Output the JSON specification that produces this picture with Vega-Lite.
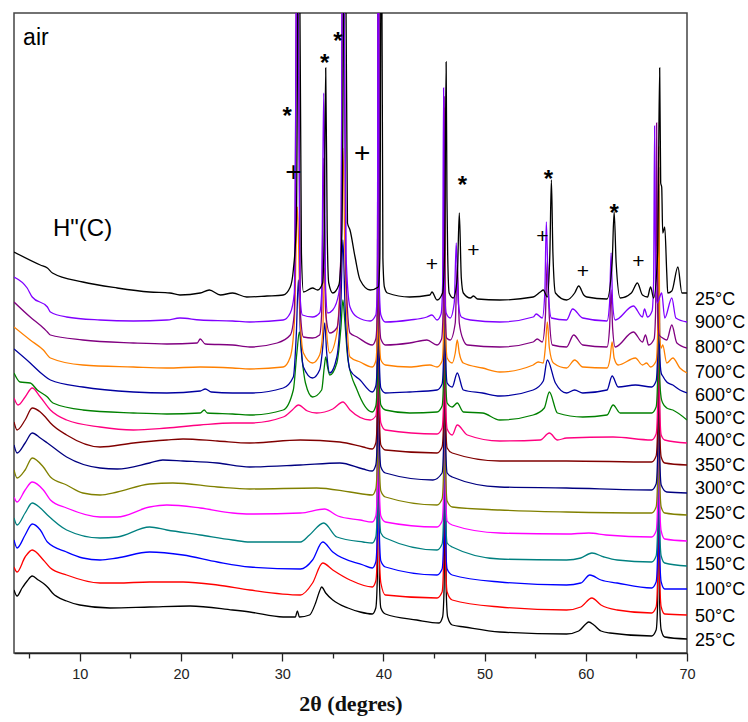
{
  "$schema": "https://vega.github.io/schema/vega-lite/v6.json",
  "width": 673,
  "height": 640,
  "autosize": {"type": "none"},
  "padding": {"left": 14, "top": 13, "right": 61, "bottom": 69},
  "background": "white",
  "config": {"view": {"stroke": "#444", "strokeWidth": 1.5}, "font": "Liberation Sans"},
  "datasets": {
    "xrd": [
      {"s":"25a","x":3.5,"y":63},{"s":"25a","x":3.8,"y":57},{"s":"25a","x":4.3,"y":65},{"s":"25a","x":4.8,"y":72},{"s":"25a","x":5.3,"y":77},{"s":"25a","x":5.9,"y":73},{"s":"25a","x":6.6,"y":68},{"s":"25a","x":6.9,"y":65},{"s":"25a","x":7.3,"y":60},{"s":"25a","x":8.7,"y":52},{"s":"25a","x":10.0,"y":48},{"s":"25a","x":13.0,"y":45},{"s":"25a","x":16.9,"y":46},{"s":"25a","x":20.9,"y":47},{"s":"25a","x":25.1,"y":43},{"s":"25a","x":26.8,"y":41},{"s":"25a","x":30.1,"y":36},{"s":"25a","x":31.3,"y":36},{"s":"25a","x":31.5,"y":42},{"s":"25a","x":31.7,"y":36},{"s":"25a","x":32.7,"y":38},{"s":"25a","x":33.3,"y":50},{"s":"25a","x":33.7,"y":62},{"s":"25a","x":33.9,"y":66},{"s":"25a","x":34.3,"y":60},{"s":"25a","x":35.0,"y":53},{"s":"25a","x":36.5,"y":45},{"s":"25a","x":37.7,"y":41},{"s":"25a","x":38.9,"y":39},{"s":"25a","x":39.25,"y":45},{"s":"25a","x":39.4,"y":75},{"s":"25a","x":39.5,"y":800},{"s":"25a","x":39.6,"y":75},{"s":"25a","x":39.75,"y":45},{"s":"25a","x":40.2,"y":39},{"s":"25a","x":43.3,"y":33},{"s":"25a","x":45.5,"y":30},{"s":"25a","x":45.85,"y":36},{"s":"25a","x":46.0,"y":65},{"s":"25a","x":46.1,"y":270},{"s":"25a","x":46.2,"y":65},{"s":"25a","x":46.35,"y":36},{"s":"25a","x":46.8,"y":28},{"s":"25a","x":48.0,"y":26},{"s":"25a","x":51.5,"y":21},{"s":"25a","x":58.1,"y":19},{"s":"25a","x":59.3,"y":22},{"s":"25a","x":60.0,"y":29},{"s":"25a","x":60.3,"y":31},{"s":"25a","x":60.8,"y":28},{"s":"25a","x":61.5,"y":22},{"s":"25a","x":62.4,"y":20},{"s":"25a","x":66.5,"y":17},{"s":"25a","x":66.95,"y":23},{"s":"25a","x":67.1,"y":50},{"s":"25a","x":67.2,"y":230},{"s":"25a","x":67.3,"y":50},{"s":"25a","x":67.45,"y":23},{"s":"25a","x":67.8,"y":16},{"s":"25a","x":70.0,"y":14},

      {"s":"50","x":3.5,"y":86},{"s":"50","x":3.8,"y":81},{"s":"50","x":4.6,"y":96},{"s":"50","x":5.3,"y":103},{"s":"50","x":6.4,"y":93},{"s":"50","x":7.1,"y":85},{"s":"50","x":8.7,"y":78},{"s":"50","x":12.0,"y":70},{"s":"50","x":13.7,"y":70},{"s":"50","x":16.9,"y":71},{"s":"50","x":20.2,"y":71},{"s":"50","x":23.6,"y":68},{"s":"50","x":26.8,"y":63},{"s":"50","x":31.8,"y":58},{"s":"50","x":33.0,"y":70},{"s":"50","x":34.0,"y":90},{"s":"50","x":35.0,"y":83},{"s":"50","x":36.7,"y":73},{"s":"50","x":38.9,"y":66},{"s":"50","x":39.25,"y":72},{"s":"50","x":39.4,"y":100},{"s":"50","x":39.5,"y":800},{"s":"50","x":39.6,"y":100},{"s":"50","x":39.75,"y":70},{"s":"50","x":40.2,"y":58},{"s":"50","x":45.3,"y":55},{"s":"50","x":45.8,"y":61},{"s":"50","x":45.95,"y":90},{"s":"50","x":46.05,"y":295},{"s":"50","x":46.15,"y":90},{"s":"50","x":46.3,"y":61},{"s":"50","x":46.8,"y":53},{"s":"50","x":51.5,"y":46},{"s":"50","x":58.1,"y":43},{"s":"50","x":59.5,"y":46},{"s":"50","x":60.6,"y":55},{"s":"50","x":61.5,"y":48},{"s":"50","x":63.1,"y":43},{"s":"50","x":66.5,"y":40},{"s":"50","x":66.95,"y":46},{"s":"50","x":67.1,"y":75},{"s":"50","x":67.2,"y":255},{"s":"50","x":67.3,"y":75},{"s":"50","x":67.45,"y":46},{"s":"50","x":67.8,"y":39},{"s":"50","x":70.0,"y":38},

      {"s":"100","x":3.5,"y":113},{"s":"100","x":3.8,"y":105},{"s":"100","x":4.6,"y":118},{"s":"100","x":5.3,"y":129},{"s":"100","x":6.1,"y":123},{"s":"100","x":6.8,"y":111},{"s":"100","x":8.7,"y":101},{"s":"100","x":10.3,"y":95},{"s":"100","x":12.0,"y":93},{"s":"100","x":13.7,"y":95},{"s":"100","x":16.9,"y":101},{"s":"100","x":20.2,"y":98},{"s":"100","x":23.6,"y":91},{"s":"100","x":26.8,"y":86},{"s":"100","x":31.8,"y":84},{"s":"100","x":33.0,"y":93},{"s":"100","x":34.0,"y":111},{"s":"100","x":35.0,"y":101},{"s":"100","x":38.0,"y":88},{"s":"100","x":38.9,"y":85},{"s":"100","x":39.25,"y":91},{"s":"100","x":39.4,"y":120},{"s":"100","x":39.5,"y":800},{"s":"100","x":39.6,"y":120},{"s":"100","x":39.75,"y":92},{"s":"100","x":40.2,"y":86},{"s":"100","x":45.3,"y":78},{"s":"100","x":45.8,"y":84},{"s":"100","x":45.95,"y":112},{"s":"100","x":46.05,"y":320},{"s":"100","x":46.15,"y":112},{"s":"100","x":46.3,"y":84},{"s":"100","x":46.8,"y":78},{"s":"100","x":51.5,"y":71},{"s":"100","x":58.1,"y":68},{"s":"100","x":59.5,"y":70},{"s":"100","x":60.4,"y":78},{"s":"100","x":61.5,"y":73},{"s":"100","x":63.1,"y":70},{"s":"100","x":66.5,"y":65},{"s":"100","x":66.95,"y":71},{"s":"100","x":67.1,"y":100},{"s":"100","x":67.2,"y":275},{"s":"100","x":67.3,"y":100},{"s":"100","x":67.45,"y":71},{"s":"100","x":67.8,"y":64},{"s":"100","x":70.0,"y":64},

      {"s":"150","x":3.5,"y":135},{"s":"150","x":3.8,"y":128},{"s":"150","x":4.6,"y":140},{"s":"150","x":5.3,"y":150},{"s":"150","x":6.1,"y":145},{"s":"150","x":6.8,"y":138},{"s":"150","x":8.7,"y":123},{"s":"150","x":12.0,"y":115},{"s":"150","x":13.7,"y":116},{"s":"150","x":16.9,"y":126},{"s":"150","x":18.6,"y":123},{"s":"150","x":21.9,"y":118},{"s":"150","x":25.1,"y":113},{"s":"150","x":26.8,"y":111},{"s":"150","x":31.8,"y":111},{"s":"150","x":32.7,"y":118},{"s":"150","x":34.1,"y":130},{"s":"150","x":35.4,"y":116},{"s":"150","x":38.0,"y":111},{"s":"150","x":38.9,"y":110},{"s":"150","x":39.25,"y":116},{"s":"150","x":39.4,"y":145},{"s":"150","x":39.5,"y":800},{"s":"150","x":39.6,"y":145},{"s":"150","x":39.75,"y":120},{"s":"150","x":40.2,"y":115},{"s":"150","x":45.3,"y":103},{"s":"150","x":45.8,"y":109},{"s":"150","x":45.95,"y":138},{"s":"150","x":46.05,"y":345},{"s":"150","x":46.15,"y":138},{"s":"150","x":46.3,"y":110},{"s":"150","x":46.8,"y":106},{"s":"150","x":51.5,"y":94},{"s":"150","x":58.1,"y":93},{"s":"150","x":59.5,"y":95},{"s":"150","x":60.6,"y":100},{"s":"150","x":61.8,"y":96},{"s":"150","x":63.1,"y":93},{"s":"150","x":66.5,"y":91},{"s":"150","x":66.95,"y":97},{"s":"150","x":67.1,"y":125},{"s":"150","x":67.2,"y":300},{"s":"150","x":67.3,"y":125},{"s":"150","x":67.45,"y":97},{"s":"150","x":67.8,"y":90},{"s":"150","x":70.0,"y":87},

      {"s":"200","x":3.5,"y":156},{"s":"200","x":3.8,"y":151},{"s":"200","x":4.6,"y":163},{"s":"200","x":5.3,"y":171},{"s":"200","x":6.4,"y":163},{"s":"200","x":7.1,"y":153},{"s":"200","x":8.7,"y":145},{"s":"200","x":12.0,"y":136},{"s":"200","x":13.7,"y":136},{"s":"200","x":16.9,"y":146},{"s":"200","x":18.6,"y":148},{"s":"200","x":21.9,"y":145},{"s":"200","x":25.1,"y":140},{"s":"200","x":26.8,"y":139},{"s":"200","x":31.8,"y":140},{"s":"200","x":34.2,"y":144},{"s":"200","x":35.5,"y":137},{"s":"200","x":37.7,"y":133},{"s":"200","x":38.9,"y":131},{"s":"200","x":39.25,"y":137},{"s":"200","x":39.4,"y":165},{"s":"200","x":39.5,"y":800},{"s":"200","x":39.6,"y":165},{"s":"200","x":39.75,"y":137},{"s":"200","x":40.2,"y":131},{"s":"200","x":45.3,"y":126},{"s":"200","x":45.8,"y":132},{"s":"200","x":45.95,"y":160},{"s":"200","x":46.05,"y":365},{"s":"200","x":46.15,"y":160},{"s":"200","x":46.3,"y":132},{"s":"200","x":46.8,"y":128},{"s":"200","x":51.5,"y":120},{"s":"200","x":58.1,"y":119},{"s":"200","x":60.3,"y":120},{"s":"200","x":62.0,"y":118},{"s":"200","x":66.5,"y":116},{"s":"200","x":66.95,"y":122},{"s":"200","x":67.1,"y":150},{"s":"200","x":67.2,"y":325},{"s":"200","x":67.3,"y":150},{"s":"200","x":67.45,"y":122},{"s":"200","x":67.8,"y":114},{"s":"200","x":70.0,"y":112},

      {"s":"250","x":3.5,"y":183},{"s":"250","x":3.8,"y":175},{"s":"250","x":4.6,"y":183},{"s":"250","x":5.3,"y":195},{"s":"250","x":6.4,"y":186},{"s":"250","x":7.1,"y":176},{"s":"250","x":8.7,"y":168},{"s":"250","x":10.3,"y":160},{"s":"250","x":12.0,"y":158},{"s":"250","x":13.7,"y":161},{"s":"250","x":16.9,"y":169},{"s":"250","x":19.2,"y":170},{"s":"250","x":23.6,"y":166},{"s":"250","x":26.8,"y":164},{"s":"250","x":33.4,"y":165},{"s":"250","x":36.7,"y":161},{"s":"250","x":38.9,"y":158},{"s":"250","x":39.25,"y":164},{"s":"250","x":39.4,"y":190},{"s":"250","x":39.5,"y":800},{"s":"250","x":39.6,"y":190},{"s":"250","x":39.75,"y":162},{"s":"250","x":40.2,"y":156},{"s":"250","x":45.3,"y":148},{"s":"250","x":45.8,"y":154},{"s":"250","x":45.95,"y":182},{"s":"250","x":46.05,"y":385},{"s":"250","x":46.15,"y":182},{"s":"250","x":46.3,"y":152},{"s":"250","x":46.8,"y":146},{"s":"250","x":51.5,"y":143},{"s":"250","x":58.1,"y":141},{"s":"250","x":66.5,"y":140},{"s":"250","x":66.95,"y":146},{"s":"250","x":67.1,"y":175},{"s":"250","x":67.2,"y":345},{"s":"250","x":67.3,"y":175},{"s":"250","x":67.45,"y":146},{"s":"250","x":67.8,"y":140},{"s":"250","x":70.0,"y":138},

      {"s":"300","x":3.5,"y":208},{"s":"300","x":3.8,"y":200},{"s":"300","x":4.6,"y":210},{"s":"300","x":5.3,"y":220},{"s":"300","x":6.1,"y":215},{"s":"300","x":6.8,"y":210},{"s":"300","x":8.7,"y":196},{"s":"300","x":12.0,"y":185},{"s":"300","x":13.7,"y":184},{"s":"300","x":16.9,"y":190},{"s":"300","x":18.2,"y":193},{"s":"300","x":20.2,"y":192},{"s":"300","x":23.6,"y":190},{"s":"300","x":26.8,"y":186},{"s":"300","x":31.8,"y":188},{"s":"300","x":35.7,"y":190},{"s":"300","x":38.0,"y":184},{"s":"300","x":38.9,"y":182},{"s":"300","x":39.25,"y":188},{"s":"300","x":39.4,"y":215},{"s":"300","x":39.5,"y":800},{"s":"300","x":39.6,"y":215},{"s":"300","x":39.75,"y":186},{"s":"300","x":40.2,"y":180},{"s":"300","x":44.9,"y":173},{"s":"300","x":45.8,"y":180},{"s":"300","x":45.95,"y":208},{"s":"300","x":46.05,"y":405},{"s":"300","x":46.15,"y":208},{"s":"300","x":46.3,"y":180},{"s":"300","x":46.8,"y":176},{"s":"300","x":51.5,"y":166},{"s":"300","x":58.1,"y":165},{"s":"300","x":66.5,"y":163},{"s":"300","x":66.95,"y":169},{"s":"300","x":67.1,"y":198},{"s":"300","x":67.2,"y":365},{"s":"300","x":67.3,"y":198},{"s":"300","x":67.45,"y":168},{"s":"300","x":68.0,"y":161},{"s":"300","x":70.0,"y":160},

      {"s":"350","x":3.5,"y":231},{"s":"350","x":3.8,"y":223},{"s":"350","x":4.6,"y":233},{"s":"350","x":5.3,"y":245},{"s":"350","x":6.1,"y":241},{"s":"350","x":6.6,"y":236},{"s":"350","x":7.1,"y":230},{"s":"350","x":8.7,"y":218},{"s":"350","x":12.0,"y":206},{"s":"350","x":15.3,"y":210},{"s":"350","x":18.6,"y":213},{"s":"350","x":20.2,"y":214},{"s":"350","x":23.6,"y":212},{"s":"350","x":26.8,"y":210},{"s":"350","x":31.8,"y":213},{"s":"350","x":35.7,"y":211},{"s":"350","x":38.0,"y":206},{"s":"350","x":38.9,"y":204},{"s":"350","x":39.25,"y":210},{"s":"350","x":39.4,"y":238},{"s":"350","x":39.5,"y":800},{"s":"350","x":39.6,"y":238},{"s":"350","x":39.75,"y":208},{"s":"350","x":40.2,"y":203},{"s":"350","x":45.3,"y":200},{"s":"350","x":45.8,"y":206},{"s":"350","x":45.95,"y":232},{"s":"350","x":46.05,"y":435},{"s":"350","x":46.15,"y":232},{"s":"350","x":46.3,"y":205},{"s":"350","x":46.8,"y":200},{"s":"350","x":51.5,"y":192},{"s":"350","x":58.1,"y":192},{"s":"350","x":66.5,"y":191},{"s":"350","x":66.95,"y":197},{"s":"350","x":67.1,"y":225},{"s":"350","x":67.2,"y":400},{"s":"350","x":67.3,"y":225},{"s":"350","x":67.45,"y":196},{"s":"350","x":67.8,"y":190},{"s":"350","x":70.0,"y":188},

      {"s":"400","x":3.5,"y":255},{"s":"400","x":3.9,"y":248},{"s":"400","x":4.6,"y":256},{"s":"400","x":5.3,"y":265},{"s":"400","x":6.1,"y":256},{"s":"400","x":7.1,"y":243},{"s":"400","x":8.7,"y":233},{"s":"400","x":12.0,"y":226},{"s":"400","x":15.3,"y":223},{"s":"400","x":18.6,"y":225},{"s":"400","x":21.9,"y":228},{"s":"400","x":25.1,"y":230},{"s":"400","x":26.8,"y":230},{"s":"400","x":30.1,"y":236},{"s":"400","x":31.0,"y":243},{"s":"400","x":31.6,"y":248},{"s":"400","x":32.5,"y":242},{"s":"400","x":33.4,"y":240},{"s":"400","x":35.0,"y":244},{"s":"400","x":36.0,"y":251},{"s":"400","x":36.7,"y":243},{"s":"400","x":38.7,"y":233},{"s":"400","x":39.25,"y":237},{"s":"400","x":39.4,"y":262},{"s":"400","x":39.5,"y":800},{"s":"400","x":39.6,"y":262},{"s":"400","x":39.75,"y":230},{"s":"400","x":40.2,"y":223},{"s":"400","x":45.3,"y":219},{"s":"400","x":45.8,"y":225},{"s":"400","x":45.95,"y":252},{"s":"400","x":46.05,"y":475},{"s":"400","x":46.15,"y":252},{"s":"400","x":46.3,"y":224},{"s":"400","x":46.8,"y":218},{"s":"400","x":47.3,"y":228},{"s":"400","x":48.3,"y":218},{"s":"400","x":51.5,"y":212},{"s":"400","x":55.5,"y":213},{"s":"400","x":56.4,"y":220},{"s":"400","x":57.2,"y":213},{"s":"400","x":58.1,"y":215},{"s":"400","x":62.7,"y":216},{"s":"400","x":66.5,"y":213},{"s":"400","x":66.95,"y":219},{"s":"400","x":67.1,"y":248},{"s":"400","x":67.2,"y":420},{"s":"400","x":67.3,"y":248},{"s":"400","x":67.45,"y":218},{"s":"400","x":67.8,"y":213},{"s":"400","x":70.0,"y":210},

      {"s":"500","x":3.5,"y":280},{"s":"500","x":4.1,"y":271},{"s":"500","x":5.1,"y":270},{"s":"500","x":5.8,"y":263},{"s":"500","x":6.8,"y":256},{"s":"500","x":7.35,"y":250},{"s":"500","x":10.3,"y":243},{"s":"500","x":15.3,"y":240},{"s":"500","x":18.6,"y":239},{"s":"500","x":21.9,"y":240},{"s":"500","x":22.3,"y":243},{"s":"500","x":22.6,"y":240},{"s":"500","x":25.1,"y":239},{"s":"500","x":26.8,"y":238},{"s":"500","x":30.1,"y":243},{"s":"500","x":31.1,"y":263},{"s":"500","x":31.45,"y":300},{"s":"500","x":31.7,"y":321},{"s":"500","x":31.95,"y":295},{"s":"500","x":32.3,"y":270},{"s":"500","x":33.0,"y":256},{"s":"500","x":33.9,"y":263},{"s":"500","x":34.15,"y":285},{"s":"500","x":34.3,"y":296},{"s":"500","x":34.5,"y":285},{"s":"500","x":34.7,"y":278},{"s":"500","x":35.4,"y":290},{"s":"500","x":35.8,"y":325},{"s":"500","x":36.0,"y":353},{"s":"500","x":36.2,"y":330},{"s":"500","x":36.5,"y":293},{"s":"500","x":37.4,"y":263},{"s":"500","x":38.9,"y":241},{"s":"500","x":39.25,"y":247},{"s":"500","x":39.4,"y":272},{"s":"500","x":39.5,"y":800},{"s":"500","x":39.6,"y":272},{"s":"500","x":39.75,"y":248},{"s":"500","x":40.2,"y":243},{"s":"500","x":42.6,"y":240},{"s":"500","x":45.3,"y":241},{"s":"500","x":45.8,"y":247},{"s":"500","x":45.95,"y":275},{"s":"500","x":46.05,"y":500},{"s":"500","x":46.15,"y":275},{"s":"500","x":46.3,"y":250},{"s":"500","x":46.8,"y":246},{"s":"500","x":47.3,"y":250},{"s":"500","x":47.9,"y":241},{"s":"500","x":49.8,"y":240},{"s":"500","x":51.5,"y":233},{"s":"500","x":54.8,"y":238},{"s":"500","x":55.9,"y":245},{"s":"500","x":56.4,"y":261},{"s":"500","x":57.2,"y":240},{"s":"500","x":59.7,"y":236},{"s":"500","x":62.1,"y":238},{"s":"500","x":62.7,"y":248},{"s":"500","x":63.4,"y":240},{"s":"500","x":66.5,"y":240},{"s":"500","x":66.95,"y":246},{"s":"500","x":67.1,"y":275},{"s":"500","x":67.2,"y":468},{"s":"500","x":67.3,"y":275},{"s":"500","x":67.45,"y":255},{"s":"500","x":67.6,"y":250},{"s":"500","x":68.0,"y":245},{"s":"500","x":68.6,"y":243},{"s":"500","x":70.0,"y":233},

      {"s":"600","x":3.5,"y":304},{"s":"600","x":5.1,"y":290},{"s":"600","x":6.4,"y":278},{"s":"600","x":7.1,"y":273},{"s":"600","x":10.3,"y":266},{"s":"600","x":15.3,"y":261},{"s":"600","x":18.6,"y":260},{"s":"600","x":21.9,"y":262},{"s":"600","x":22.4,"y":264},{"s":"600","x":23.0,"y":261},{"s":"600","x":25.1,"y":260},{"s":"600","x":26.8,"y":260},{"s":"600","x":30.1,"y":265},{"s":"600","x":31.1,"y":276},{"s":"600","x":31.4,"y":320},{"s":"600","x":31.6,"y":373},{"s":"600","x":31.8,"y":320},{"s":"600","x":32.1,"y":286},{"s":"600","x":33.0,"y":275},{"s":"600","x":33.7,"y":283},{"s":"600","x":34.0,"y":305},{"s":"600","x":34.2,"y":330},{"s":"600","x":34.4,"y":300},{"s":"600","x":34.7,"y":280},{"s":"600","x":35.4,"y":296},{"s":"600","x":35.8,"y":350},{"s":"600","x":36.0,"y":413},{"s":"600","x":36.2,"y":350},{"s":"600","x":36.7,"y":283},{"s":"600","x":37.7,"y":273},{"s":"600","x":38.9,"y":261},{"s":"600","x":39.25,"y":267},{"s":"600","x":39.4,"y":292},{"s":"600","x":39.5,"y":800},{"s":"600","x":39.6,"y":292},{"s":"600","x":39.75,"y":265},{"s":"600","x":40.2,"y":260},{"s":"600","x":42.6,"y":261},{"s":"600","x":45.3,"y":263},{"s":"600","x":45.8,"y":269},{"s":"600","x":45.95,"y":297},{"s":"600","x":46.05,"y":533},{"s":"600","x":46.15,"y":297},{"s":"600","x":46.3,"y":270},{"s":"600","x":46.8,"y":266},{"s":"600","x":47.3,"y":280},{"s":"600","x":47.9,"y":263},{"s":"600","x":49.8,"y":260},{"s":"600","x":51.5,"y":257},{"s":"600","x":54.8,"y":263},{"s":"600","x":55.8,"y":272},{"s":"600","x":56.2,"y":293},{"s":"600","x":57.0,"y":270},{"s":"600","x":58.1,"y":260},{"s":"600","x":58.9,"y":263},{"s":"600","x":59.7,"y":260},{"s":"600","x":62.1,"y":263},{"s":"600","x":62.6,"y":277},{"s":"600","x":63.2,"y":266},{"s":"600","x":64.9,"y":268},{"s":"600","x":66.5,"y":266},{"s":"600","x":66.95,"y":272},{"s":"600","x":67.1,"y":300},{"s":"600","x":67.2,"y":485},{"s":"600","x":67.3,"y":300},{"s":"600","x":67.45,"y":280},{"s":"600","x":67.6,"y":277},{"s":"600","x":68.0,"y":271},{"s":"600","x":68.6,"y":268},{"s":"600","x":69.3,"y":263},{"s":"600","x":70.0,"y":260},

      {"s":"700","x":3.5,"y":326},{"s":"700","x":5.1,"y":313},{"s":"700","x":6.4,"y":303},{"s":"700","x":7.1,"y":295},{"s":"700","x":10.3,"y":288},{"s":"700","x":15.3,"y":286},{"s":"700","x":18.6,"y":285},{"s":"700","x":21.9,"y":286},{"s":"700","x":25.1,"y":285},{"s":"700","x":26.8,"y":284},{"s":"700","x":30.1,"y":286},{"s":"700","x":30.8,"y":296},{"s":"700","x":31.2,"y":330},{"s":"700","x":31.5,"y":446},{"s":"700","x":31.8,"y":330},{"s":"700","x":32.1,"y":300},{"s":"700","x":33.0,"y":290},{"s":"700","x":33.7,"y":298},{"s":"700","x":34.0,"y":320},{"s":"700","x":34.2,"y":385},{"s":"700","x":34.4,"y":320},{"s":"700","x":34.7,"y":300},{"s":"700","x":35.4,"y":320},{"s":"700","x":35.8,"y":400},{"s":"700","x":36.0,"y":505},{"s":"700","x":36.2,"y":400},{"s":"700","x":36.7,"y":296},{"s":"700","x":37.7,"y":291},{"s":"700","x":38.9,"y":286},{"s":"700","x":39.25,"y":292},{"s":"700","x":39.4,"y":318},{"s":"700","x":39.5,"y":800},{"s":"700","x":39.6,"y":318},{"s":"700","x":39.75,"y":293},{"s":"700","x":40.2,"y":288},{"s":"700","x":42.6,"y":286},{"s":"700","x":44.6,"y":288},{"s":"700","x":45.3,"y":286},{"s":"700","x":45.8,"y":292},{"s":"700","x":45.95,"y":320},{"s":"700","x":46.05,"y":545},{"s":"700","x":46.15,"y":320},{"s":"700","x":46.3,"y":295},{"s":"700","x":46.8,"y":290},{"s":"700","x":47.1,"y":300},{"s":"700","x":47.3,"y":313},{"s":"700","x":47.5,"y":300},{"s":"700","x":47.9,"y":290},{"s":"700","x":49.8,"y":285},{"s":"700","x":51.5,"y":281},{"s":"700","x":54.8,"y":288},{"s":"700","x":55.3,"y":291},{"s":"700","x":55.8,"y":290},{"s":"700","x":56.0,"y":305},{"s":"700","x":56.2,"y":331},{"s":"700","x":56.4,"y":305},{"s":"700","x":56.8,"y":290},{"s":"700","x":58.1,"y":285},{"s":"700","x":58.9,"y":293},{"s":"700","x":59.7,"y":286},{"s":"700","x":62.1,"y":285},{"s":"700","x":62.4,"y":295},{"s":"700","x":62.6,"y":311},{"s":"700","x":62.8,"y":295},{"s":"700","x":63.2,"y":288},{"s":"700","x":64.9,"y":295},{"s":"700","x":65.6,"y":288},{"s":"700","x":66.0,"y":290},{"s":"700","x":66.4,"y":286},{"s":"700","x":66.95,"y":292},{"s":"700","x":67.1,"y":320},{"s":"700","x":67.2,"y":506},{"s":"700","x":67.3,"y":320},{"s":"700","x":67.45,"y":305},{"s":"700","x":67.6,"y":308},{"s":"700","x":68.0,"y":290},{"s":"700","x":68.6,"y":295},{"s":"700","x":69.3,"y":285},{"s":"700","x":70.0,"y":280},

      {"s":"800","x":3.5,"y":351},{"s":"800","x":5.1,"y":336},{"s":"800","x":6.4,"y":325},{"s":"800","x":6.8,"y":321},{"s":"800","x":7.1,"y":318},{"s":"800","x":10.3,"y":313},{"s":"800","x":15.3,"y":310},{"s":"800","x":18.6,"y":309},{"s":"800","x":21.6,"y":310},{"s":"800","x":21.9,"y":314},{"s":"800","x":22.4,"y":309},{"s":"800","x":25.1,"y":308},{"s":"800","x":26.8,"y":306},{"s":"800","x":29.5,"y":310},{"s":"800","x":30.8,"y":318},{"s":"800","x":31.2,"y":340},{"s":"800","x":31.5,"y":800},{"s":"800","x":31.8,"y":340},{"s":"800","x":32.1,"y":316},{"s":"800","x":33.0,"y":315},{"s":"800","x":33.7,"y":318},{"s":"800","x":33.9,"y":340},{"s":"800","x":34.1,"y":495},{"s":"800","x":34.3,"y":340},{"s":"800","x":34.7,"y":320},{"s":"800","x":35.4,"y":325},{"s":"800","x":35.8,"y":380},{"s":"800","x":36.0,"y":800},{"s":"800","x":36.3,"y":380},{"s":"800","x":36.7,"y":320},{"s":"800","x":37.4,"y":316},{"s":"800","x":38.9,"y":308},{"s":"800","x":39.25,"y":314},{"s":"800","x":39.4,"y":340},{"s":"800","x":39.5,"y":800},{"s":"800","x":39.6,"y":340},{"s":"800","x":39.75,"y":314},{"s":"800","x":40.2,"y":308},{"s":"800","x":42.6,"y":310},{"s":"800","x":44.3,"y":313},{"s":"800","x":45.3,"y":308},{"s":"800","x":45.75,"y":314},{"s":"800","x":45.9,"y":342},{"s":"800","x":46.0,"y":556},{"s":"800","x":46.1,"y":342},{"s":"800","x":46.25,"y":315},{"s":"800","x":46.6,"y":313},{"s":"800","x":47.1,"y":330},{"s":"800","x":47.3,"y":388},{"s":"800","x":47.5,"y":330},{"s":"800","x":47.9,"y":313},{"s":"800","x":48.3,"y":308},{"s":"800","x":51.5,"y":306},{"s":"800","x":54.8,"y":311},{"s":"800","x":55.2,"y":314},{"s":"800","x":55.7,"y":311},{"s":"800","x":56.0,"y":335},{"s":"800","x":56.2,"y":393},{"s":"800","x":56.4,"y":335},{"s":"800","x":56.7,"y":308},{"s":"800","x":58.1,"y":306},{"s":"800","x":58.8,"y":318},{"s":"800","x":59.7,"y":308},{"s":"800","x":62.1,"y":306},{"s":"800","x":62.35,"y":325},{"s":"800","x":62.5,"y":363},{"s":"800","x":62.65,"y":325},{"s":"800","x":62.9,"y":306},{"s":"800","x":64.7,"y":321},{"s":"800","x":65.6,"y":311},{"s":"800","x":65.9,"y":318},{"s":"800","x":66.2,"y":308},{"s":"800","x":66.75,"y":314},{"s":"800","x":66.9,"y":342},{"s":"800","x":67.0,"y":530},{"s":"800","x":67.1,"y":342},{"s":"800","x":67.25,"y":318},{"s":"800","x":67.6,"y":315},{"s":"800","x":68.0,"y":313},{"s":"800","x":68.5,"y":328},{"s":"800","x":69.0,"y":310},{"s":"800","x":70.0,"y":305},

      {"s":"900","x":3.5,"y":376},{"s":"900","x":4.8,"y":365},{"s":"900","x":5.3,"y":356},{"s":"900","x":6.8,"y":346},{"s":"900","x":7.1,"y":341},{"s":"900","x":8.7,"y":336},{"s":"900","x":12.0,"y":333},{"s":"900","x":15.3,"y":332},{"s":"900","x":18.6,"y":333},{"s":"900","x":19.9,"y":335},{"s":"900","x":21.9,"y":333},{"s":"900","x":25.1,"y":332},{"s":"900","x":26.8,"y":331},{"s":"900","x":30.1,"y":333},{"s":"900","x":30.8,"y":340},{"s":"900","x":31.2,"y":360},{"s":"900","x":31.5,"y":800},{"s":"900","x":31.75,"y":360},{"s":"900","x":32.0,"y":338},{"s":"900","x":33.0,"y":336},{"s":"900","x":33.7,"y":340},{"s":"900","x":33.9,"y":360},{"s":"900","x":34.1,"y":560},{"s":"900","x":34.3,"y":360},{"s":"900","x":34.5,"y":340},{"s":"900","x":35.0,"y":343},{"s":"900","x":35.6,"y":360},{"s":"900","x":35.8,"y":400},{"s":"900","x":36.0,"y":800},{"s":"900","x":36.3,"y":400},{"s":"900","x":36.7,"y":346},{"s":"900","x":37.4,"y":336},{"s":"900","x":38.7,"y":332},{"s":"900","x":39.25,"y":338},{"s":"900","x":39.4,"y":365},{"s":"900","x":39.5,"y":800},{"s":"900","x":39.6,"y":365},{"s":"900","x":39.75,"y":338},{"s":"900","x":40.2,"y":331},{"s":"900","x":42.6,"y":333},{"s":"900","x":44.3,"y":336},{"s":"900","x":44.8,"y":338},{"s":"900","x":45.3,"y":333},{"s":"900","x":45.7,"y":339},{"s":"900","x":45.85,"y":367},{"s":"900","x":45.95,"y":565},{"s":"900","x":46.05,"y":367},{"s":"900","x":46.2,"y":340},{"s":"900","x":46.6,"y":335},{"s":"900","x":47.0,"y":350},{"s":"900","x":47.2,"y":410},{"s":"900","x":47.4,"y":350},{"s":"900","x":47.7,"y":336},{"s":"900","x":48.6,"y":333},{"s":"900","x":51.5,"y":331},{"s":"900","x":54.8,"y":336},{"s":"900","x":55.1,"y":339},{"s":"900","x":55.7,"y":335},{"s":"900","x":55.95,"y":360},{"s":"900","x":56.1,"y":431},{"s":"900","x":56.3,"y":360},{"s":"900","x":56.6,"y":335},{"s":"900","x":58.1,"y":333},{"s":"900","x":58.7,"y":344},{"s":"900","x":59.7,"y":335},{"s":"900","x":62.1,"y":332},{"s":"900","x":62.35,"y":350},{"s":"900","x":62.5,"y":400},{"s":"900","x":62.65,"y":350},{"s":"900","x":62.9,"y":333},{"s":"900","x":64.7,"y":347},{"s":"900","x":65.6,"y":336},{"s":"900","x":65.8,"y":344},{"s":"900","x":66.1,"y":336},{"s":"900","x":66.55,"y":342},{"s":"900","x":66.7,"y":370},{"s":"900","x":66.8,"y":527},{"s":"900","x":66.9,"y":370},{"s":"900","x":67.05,"y":350},{"s":"900","x":67.5,"y":360},{"s":"900","x":67.8,"y":335},{"s":"900","x":68.5,"y":355},{"s":"900","x":68.9,"y":335},{"s":"900","x":70.0,"y":331},

      {"s":"25b","x":3.5,"y":401},{"s":"25b","x":6.1,"y":388},{"s":"25b","x":6.8,"y":385},{"s":"25b","x":7.3,"y":380},{"s":"25b","x":10.3,"y":371},{"s":"25b","x":13.7,"y":365},{"s":"25b","x":16.9,"y":361},{"s":"25b","x":18.9,"y":360},{"s":"25b","x":19.9,"y":358},{"s":"25b","x":21.9,"y":360},{"s":"25b","x":22.8,"y":363},{"s":"25b","x":23.9,"y":358},{"s":"25b","x":25.1,"y":360},{"s":"25b","x":26.5,"y":356},{"s":"25b","x":28.5,"y":357},{"s":"25b","x":30.1,"y":358},{"s":"25b","x":30.8,"y":366},{"s":"25b","x":31.1,"y":383},{"s":"25b","x":31.4,"y":430},{"s":"25b","x":31.65,"y":800},{"s":"25b","x":31.9,"y":400},{"s":"25b","x":32.1,"y":361},{"s":"25b","x":33.0,"y":365},{"s":"25b","x":33.5,"y":363},{"s":"25b","x":34.0,"y":370},{"s":"25b","x":34.15,"y":420},{"s":"25b","x":34.3,"y":585},{"s":"25b","x":34.45,"y":420},{"s":"25b","x":34.6,"y":370},{"s":"25b","x":35.0,"y":360},{"s":"25b","x":35.6,"y":368},{"s":"25b","x":35.9,"y":420},{"s":"25b","x":36.2,"y":800},{"s":"25b","x":36.45,"y":430},{"s":"25b","x":36.7,"y":423},{"s":"25b","x":37.2,"y":396},{"s":"25b","x":37.7,"y":373},{"s":"25b","x":38.7,"y":363},{"s":"25b","x":39.5,"y":366},{"s":"25b","x":39.65,"y":395},{"s":"25b","x":39.8,"y":800},{"s":"25b","x":39.95,"y":395},{"s":"25b","x":40.1,"y":366},{"s":"25b","x":40.4,"y":360},{"s":"25b","x":42.6,"y":356},{"s":"25b","x":44.6,"y":358},{"s":"25b","x":44.8,"y":361},{"s":"25b","x":45.3,"y":353},{"s":"25b","x":45.85,"y":360},{"s":"25b","x":46.05,"y":400},{"s":"25b","x":46.2,"y":591},{"s":"25b","x":46.28,"y":456},{"s":"25b","x":46.35,"y":400},{"s":"25b","x":46.5,"y":360},{"s":"25b","x":46.9,"y":355},{"s":"25b","x":47.3,"y":375},{"s":"25b","x":47.5,"y":440},{"s":"25b","x":47.7,"y":375},{"s":"25b","x":47.9,"y":360},{"s":"25b","x":48.6,"y":355},{"s":"25b","x":48.9,"y":357},{"s":"25b","x":49.3,"y":354},{"s":"25b","x":51.5,"y":353},{"s":"25b","x":54.8,"y":356},{"s":"25b","x":55.5,"y":361},{"s":"25b","x":55.8,"y":363},{"s":"25b","x":56.2,"y":356},{"s":"25b","x":56.45,"y":400},{"s":"25b","x":56.6,"y":473},{"s":"25b","x":56.75,"y":400},{"s":"25b","x":57.0,"y":360},{"s":"25b","x":58.1,"y":353},{"s":"25b","x":58.9,"y":360},{"s":"25b","x":59.3,"y":367},{"s":"25b","x":59.8,"y":358},{"s":"25b","x":60.1,"y":356},{"s":"25b","x":62.1,"y":354},{"s":"25b","x":62.6,"y":390},{"s":"25b","x":62.8,"y":441},{"s":"25b","x":63.0,"y":390},{"s":"25b","x":63.4,"y":355},{"s":"25b","x":64.5,"y":360},{"s":"25b","x":65.1,"y":370},{"s":"25b","x":65.6,"y":358},{"s":"25b","x":66.1,"y":356},{"s":"25b","x":66.4,"y":366},{"s":"25b","x":66.7,"y":355},{"s":"25b","x":67.1,"y":400},{"s":"25b","x":67.3,"y":585},{"s":"25b","x":67.4,"y":470},{"s":"25b","x":67.5,"y":466},{"s":"25b","x":67.6,"y":420},{"s":"25b","x":67.8,"y":426},{"s":"25b","x":68.0,"y":380},{"s":"25b","x":68.1,"y":360},{"s":"25b","x":68.5,"y":362},{"s":"25b","x":69.1,"y":386},{"s":"25b","x":69.5,"y":360},{"s":"25b","x":70.0,"y":360}
    ],
    "labels": [
      {"t":"25°C","y":353},{"t":"900°C","y":330},{"t":"800°C","y":305},{"t":"700°C","y":280},{"t":"600°C","y":257},{"t":"500°C","y":234},{"t":"400°C","y":212},{"t":"350°C","y":187},{"t":"300°C","y":164},{"t":"250°C","y":139},{"t":"200°C","y":110},{"t":"150°C","y":88},{"t":"100°C","y":63},{"t":"50°C","y":36},{"t":"25°C","y":12}
    ],
    "stars": [
      {"x":30.5,"y":543},{"x":34.2,"y":596},{"x":35.5,"y":618},{"x":47.8,"y":474},{"x":56.3,"y":480},{"x":62.8,"y":446}
    ],
    "smallplus": [
      {"x":44.8,"y":389},{"x":48.9,"y":403},{"x":55.7,"y":417},{"x":59.7,"y":382},{"x":65.2,"y":392}
    ],
    "bigplus": [
      {"x":31.1,"y":481},{"x":37.9,"y":500}
    ],
    "notes": [
      {"t":"air","x":4.4,"y":608,"size":"a"},{"t":"H\"(C)","x":7.35,"y":417,"size":"b"}
    ]
  },
  "layer": [
    {
      "data": {"name": "xrd"},
      "mark": {"type": "line", "strokeWidth": 1.3, "clip": true, "interpolate": "monotone"},
      "encoding": {
        "x": {
          "field": "x", "type": "quantitative",
          "scale": {"domain": [3.5, 70], "nice": false, "zero": false},
          "axis": {
            "values": [5,10,15,20,25,30,35,40,45,50,55,60,65,70],
            "labelExpr": "datum.value % 10 === 0 ? datum.label : ''",
            "tickSize": {"condition": {"test": "datum.value % 10 === 0", "value": 8}, "value": 5},
            "grid": false, "labelFlush": false, "labelOverlap": false,
            "domainColor": "#222", "domainWidth": 1.5,
            "tickColor": "#222", "tickWidth": 1.3,
            "labelFont": "Liberation Sans", "labelFontSize": 14.5, "labelColor": "#222", "labelPadding": 6,
            "title": "2θ (degres)", "titleFont": "Liberation Serif", "titleFontSize": 22,
            "titleFontWeight": "bold", "titleColor": "#111", "titlePadding": 13
          }
        },
        "y": {"field": "y", "type": "quantitative", "scale": {"domain": [0, 640], "nice": false, "zero": false}, "axis": null},
        "color": {
          "field": "s", "type": "nominal", "legend": null,
          "scale": {
            "domain": ["25a","50","100","150","200","250","300","350","400","500","600","700","800","900","25b"],
            "range": ["#000000","#FF0000","#0000FF","#008080","#FF00FF","#808000","#000080","#800000","#FF0080","#008000","#0000A0","#FF8000","#800080","#8000FF","#000000"]
          }
        }
      }
    },
    {
      "data": {"name": "labels"},
      "mark": {"type": "text", "align": "left", "baseline": "middle", "dx": 8, "fontSize": 18, "font": "Liberation Sans", "color": "#000"},
      "encoding": {
        "x": {"datum": 70, "type": "quantitative"},
        "y": {"field": "y", "type": "quantitative"},
        "text": {"field": "t"}
      }
    },
    {
      "data": {"name": "stars"},
      "mark": {"type": "text", "align": "center", "baseline": "middle", "dy": 7, "fontSize": 24, "fontWeight": "bold", "font": "Liberation Sans", "color": "#000", "text": "*"},
      "encoding": {
        "x": {"field": "x", "type": "quantitative"},
        "y": {"field": "y", "type": "quantitative"}
      }
    },
    {
      "data": {"name": "smallplus"},
      "mark": {"type": "text", "align": "center", "baseline": "middle", "dy": 1, "fontSize": 21, "font": "Liberation Sans", "color": "#000", "text": "+"},
      "encoding": {
        "x": {"field": "x", "type": "quantitative"},
        "y": {"field": "y", "type": "quantitative"}
      }
    },
    {
      "data": {"name": "bigplus"},
      "mark": {"type": "text", "align": "center", "baseline": "middle", "dy": 1, "fontSize": 28, "font": "Liberation Sans", "color": "#000", "text": "+"},
      "encoding": {
        "x": {"field": "x", "type": "quantitative"},
        "y": {"field": "y", "type": "quantitative"}
      }
    },
    {
      "data": {"name": "notes"},
      "transform": [{"filter": "datum.size === 'a'"}],
      "mark": {"type": "text", "align": "left", "baseline": "alphabetic", "fontSize": 23, "font": "Liberation Sans", "color": "#000"},
      "encoding": {
        "x": {"field": "x", "type": "quantitative"},
        "y": {"field": "y", "type": "quantitative"},
        "text": {"field": "t"}
      }
    },
    {
      "data": {"name": "notes"},
      "transform": [{"filter": "datum.size === 'b'"}],
      "mark": {"type": "text", "align": "left", "baseline": "alphabetic", "fontSize": 24, "font": "Liberation Sans", "color": "#000"},
      "encoding": {
        "x": {"field": "x", "type": "quantitative"},
        "y": {"field": "y", "type": "quantitative"},
        "text": {"field": "t"}
      }
    }
  ]
}
